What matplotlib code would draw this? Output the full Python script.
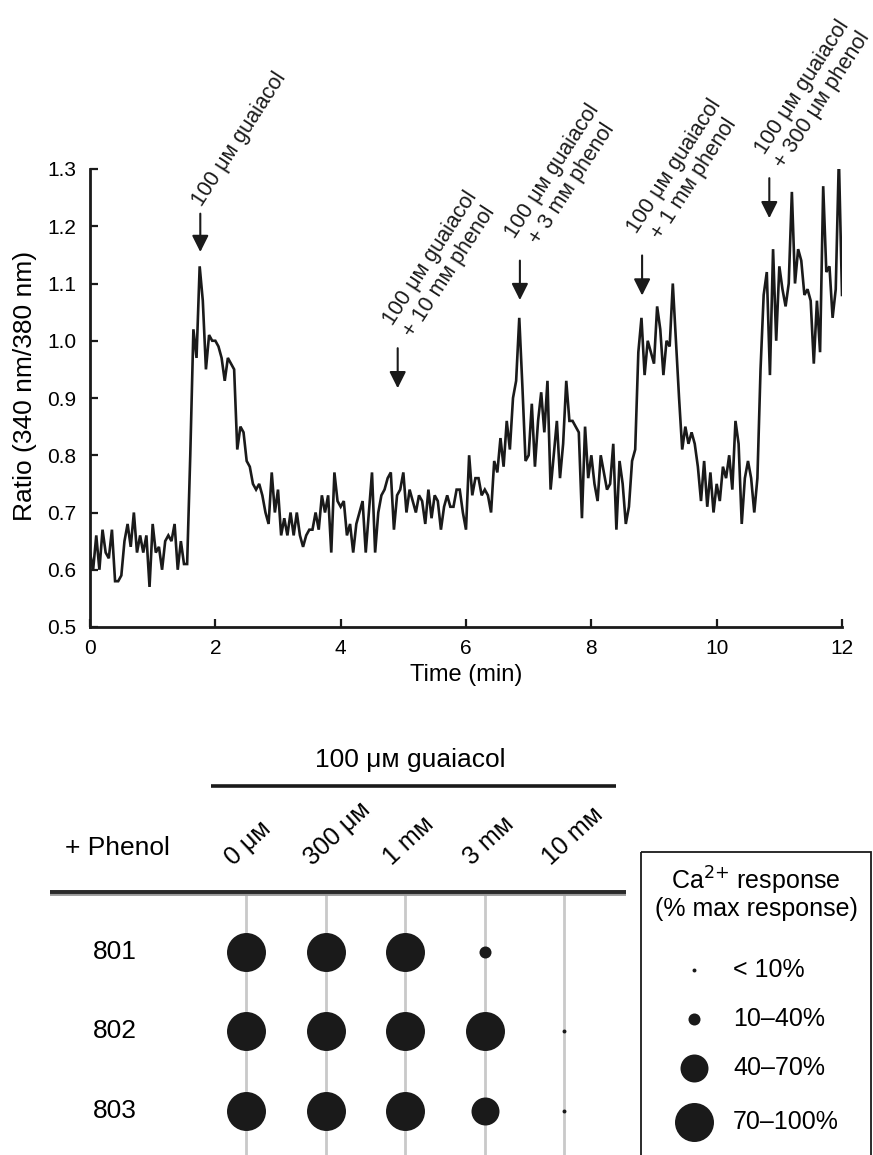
import numpy as np
import matplotlib
matplotlib.use("Agg")
import matplotlib.pyplot as plt
from matplotlib.patches import Rectangle

plt.rcParams['font.family'] = ['Liberation Sans', 'DejaVu Sans']

# ---------------- data: Ca2+ trace ----------------
ratio = [
    # 0.00 - 1.50 min
    0.63, 0.60, 0.66, 0.60, 0.67, 0.63, 0.62, 0.67, 0.58, 0.58, 0.59, 0.65, 0.68, 0.64, 0.70, 0.63,
    0.66, 0.63, 0.66, 0.57, 0.68, 0.63, 0.64, 0.60, 0.65, 0.66, 0.65, 0.68, 0.60, 0.65, 0.61,
    # 1.55 - 3.85 min
    0.61, 0.80, 1.02, 0.97, 1.13, 1.07, 0.95, 1.01, 1.00, 1.00, 0.99, 0.97, 0.93, 0.97, 0.96, 0.95,
    0.81, 0.85, 0.84, 0.79, 0.78, 0.75, 0.74, 0.75, 0.73, 0.70, 0.68, 0.77, 0.70, 0.74, 0.66, 0.69,
    0.66, 0.70, 0.66, 0.70, 0.66, 0.64, 0.66, 0.67, 0.67, 0.70, 0.67, 0.73, 0.70, 0.73, 0.63,
    # 3.90 - 5.85 min
    0.77, 0.72, 0.71, 0.72, 0.66, 0.68, 0.63, 0.68, 0.70, 0.72, 0.63, 0.70, 0.77, 0.63, 0.70, 0.73,
    0.74, 0.76, 0.77, 0.67, 0.73, 0.74, 0.77, 0.70, 0.74, 0.72, 0.70, 0.73, 0.72, 0.68, 0.74, 0.69,
    0.73, 0.72, 0.67, 0.71, 0.73, 0.71, 0.71, 0.74,
    # 5.90 - 7.95 min
    0.74, 0.70, 0.67, 0.80, 0.73, 0.76, 0.76, 0.73, 0.74, 0.73, 0.70, 0.79, 0.77, 0.83, 0.78, 0.86,
    0.81, 0.90, 0.93, 1.04, 0.92, 0.79, 0.80, 0.89, 0.78, 0.86, 0.91, 0.84, 0.93, 0.74, 0.80, 0.86,
    0.76, 0.82, 0.93, 0.86, 0.86, 0.85, 0.84, 0.69, 0.85, 0.76,
    # 8.00 - 8.65 min
    0.80, 0.75, 0.72, 0.80, 0.77, 0.74, 0.75, 0.82, 0.67, 0.79, 0.75, 0.68, 0.71, 0.79,
    # 8.70 - 9.25 min
    0.81, 0.98, 1.04, 0.94, 1.00, 0.98, 0.96, 1.06, 1.02, 0.94, 1.00, 0.99,
    # 9.30 - 12.00 min
    1.10, 1.00, 0.90, 0.81, 0.85, 0.82, 0.84, 0.82, 0.78, 0.72, 0.79, 0.71, 0.77, 0.70, 0.75, 0.72,
    0.78, 0.76, 0.80, 0.74, 0.86, 0.82, 0.68, 0.76, 0.79, 0.76, 0.70, 0.76, 0.95, 1.08, 1.12, 0.94,
    1.16, 1.00, 1.13, 1.09, 1.06, 1.10, 1.26, 1.10, 1.16, 1.14, 1.08, 1.09, 1.07, 0.96, 1.07, 0.98,
    1.27, 1.12, 1.13, 1.04, 1.09, 1.32, 1.08,
]
time_min = np.linspace(0, 12, len(ratio))

x_ticks = [0, 2, 4, 6, 8, 10, 12]
y_ticks = [0.5, 0.6, 0.7, 0.8, 0.9, 1.0, 1.1, 1.2, 1.3]

# treatment arrows: time, arrow top, arrow tip
arrow_t = [1.76, 4.91, 6.86, 8.81, 10.84]
arrow_top = [1.222, 0.987, 1.140, 1.149, 1.284]
arrow_tip = [1.155, 0.917, 1.071, 1.079, 1.214]
arrow_labels = [
    "100 μᴍ guaiacol",
    "100 μᴍ guaiacol\n+ 10 mᴍ phenol",
    "100 μᴍ guaiacol\n+ 3 mᴍ phenol",
    "100 μᴍ guaiacol\n+ 1 mᴍ phenol",
    "100 μᴍ guaiacol\n+ 300 μᴍ phenol",
]

# ---------------- data: dot matrix ----------------
phenol_conc = ["0 μᴍ", "300 μᴍ", "1 mᴍ", "3 mᴍ", "10 mᴍ"]
lines = ["801", "802", "803"]
# response category index (0:<10%, 1:10-40%, 2:40-70%, 3:70-100%, -1: none)
response = [
    [3, 3, 3, 1, -1],
    [3, 3, 3, 3, 0],
    [3, 3, 3, 2, 0],
]
cat_labels = ["< 10%", "10–40%", "40–70%", "70–100%"]
cat_sizes = [8, 75, 406, 788]

# ---------------- figure ----------------
W, H = 873, 1155
fig = plt.figure(figsize=(W / 100, H / 100), dpi=100)

ax = fig.add_axes([90 / W, 1 - 627 / H, (842 - 90) / W, (627 - 169) / H])
ax.plot(time_min, ratio, color='#1a1a1a', lw=1.9, solid_joinstyle='miter')
ax.set_xlim(0, 12)
ax.set_ylim(0.5, 1.3)
ax.set_xticks(x_ticks)
ax.set_yticks(y_ticks)
ax.set_yticklabels([f"{v:.1f}" for v in y_ticks])
for s in ['top', 'right']:
    ax.spines[s].set_visible(False)
for s in ['left', 'bottom']:
    ax.spines[s].set_linewidth(2.0)
    ax.spines[s].set_color('#1a1a1a')
ax.tick_params(direction='in', length=6, width=1.6, labelsize=15, color='#1a1a1a')
ax.tick_params(axis='x', pad=9)
ax.tick_params(axis='y', pad=10)
ax.set_xlabel("Time (min)", fontsize=17, labelpad=4)
ax.set_ylabel("Ratio (340 nm/380 nm)", fontsize=19)
ax.yaxis.set_label_coords(-0.071, 0.526)

for t, yt, yp, lab in zip(arrow_t, arrow_top, arrow_tip, arrow_labels):
    ax.annotate('', xy=(t, yp), xytext=(t, yt),
                arrowprops=dict(arrowstyle='-|>,head_length=0.5,head_width=0.25',
                                lw=1.5, color='#1a1a1a', mutation_scale=20,
                                shrinkA=0, shrinkB=0),
                annotation_clip=False)
    nl = lab.count('\n')
    ax.annotate(lab, xy=(t, yt), xytext=(-2 if nl == 0 else 0, 7 if nl == 0 else 13),
                textcoords='offset points', rotation=57, rotation_mode='anchor',
                ha='left', va='center', fontsize=15.5, multialignment='center',
                linespacing=1.15, annotation_clip=False, color='#1a1a1a')

# ---------------- bottom dot matrix ----------------
px = 79.5
x0, y0 = 246, 951.7
bx = fig.add_axes([0, 0, 1, (H - 740) / H])
bx.set_xlim((0 - x0) / px, (W - x0) / px)
bx.set_ylim((H - y0) / px, (740 - y0) / px)
bx.axis('off')

def X(p):
    return (p - x0) / px

def Y(p):
    return (p - y0) / px

bx.text(X(410), Y(760), "100 μᴍ guaiacol", ha='center', va='center', fontsize=19)
bx.plot([X(211), X(616)], [Y(786), Y(786)], color='#1a1a1a', lw=2.6, solid_capstyle='butt')
bx.text(X(117), Y(848), "+ Phenol", ha='center', va='center', fontsize=19)
bx.plot([X(50), X(626)], [Y(893), Y(893)], color='#9a9a9a', lw=4.2, solid_capstyle='butt')
bx.plot([X(50), X(626)], [Y(891.5), Y(891.5)], color='#2a2a2a', lw=2.8, solid_capstyle='butt')

for i, lab in enumerate(phenol_conc):
    bx.text(i - 0.16, Y(866), lab, rotation=43, rotation_mode='anchor',
            ha='left', va='baseline', fontsize=18)
    bx.plot([i, i], [Y(896), Y(H + 5)], color='#c9c9c9', lw=2.0, zorder=1)

for j, name in enumerate(lines):
    bx.text(X(115), j, name, ha='center', va='center', fontsize=19)
    for i, c in enumerate(response[j]):
        if c >= 0:
            bx.scatter([i], [j], s=cat_sizes[c], color='#1a1a1a', zorder=3, linewidths=0)

# legend box
bx.add_patch(Rectangle((X(641), Y(852)), X(871) - X(641), Y(H + 20) - Y(852),
                       fill=False, edgecolor='#1a1a1a', lw=1.3, clip_on=True))
bx.text(X(756), Y(881), "Ca$^{2{+}}$ response", ha='center', va='center', fontsize=18)
bx.text(X(756), Y(909), "(% max response)", ha='center', va='center', fontsize=18)
leg_y = [970, 1019, 1068, 1122]
for k, (lab, s) in enumerate(zip(cat_labels, cat_sizes)):
    bx.scatter([X(694)], [Y(leg_y[k])], s=s, color='#1a1a1a', linewidths=0, zorder=3)
    bx.text(X(733), Y(leg_y[k]), lab, ha='left', va='center', fontsize=18)

fig.savefig("out.png", dpi=100)
